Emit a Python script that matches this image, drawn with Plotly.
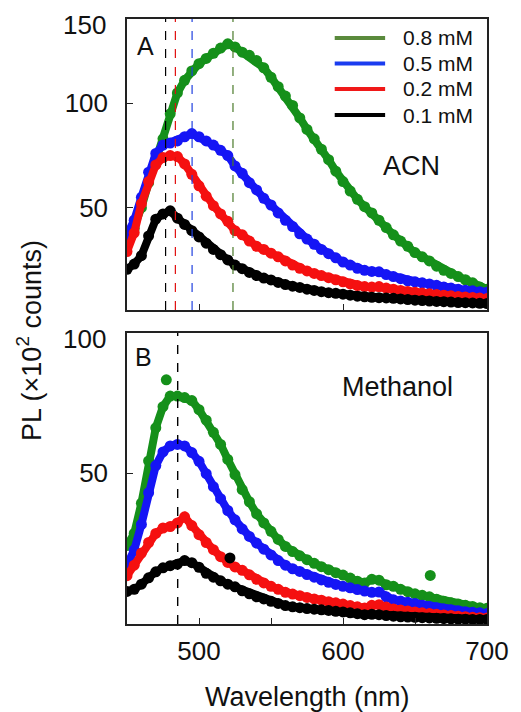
import plotly.graph_objects as go

# ---------------- data ----------------
wavelength = list(range(450, 701, 5))

# Panel A : ACN
acn_08 = [32, 40, 50, 62, 73, 83, 95, 105, 111, 115.5, 119, 121.5, 124, 126.5, 128.5, 127, 124.5, 123, 120.5, 117,
          112.5, 108, 103.5, 99, 93, 87.5, 83, 78, 73, 67.5, 62.5, 58, 54, 50.5, 47.5, 44, 40.5, 37, 34, 31.5,
          28.5, 26.5, 24.5, 22, 20, 18.5, 17, 15.5, 14, 12, 11]
acn_05 = [37, 44, 55, 67, 76, 80, 81, 82, 84, 85.5, 84, 82, 80, 77.5, 75, 70, 66.5, 62, 58.5, 54.5,
          51.3, 47.5, 44, 41, 37.5, 35, 32.5, 30, 28, 26, 24, 22.5, 21, 20, 19.5, 19.3, 18, 17, 16, 15,
          14.5, 14, 13.5, 12.8, 12, 11.5, 11, 10.5, 10.2, 9.8, 9.5]
acn_02 = [29, 38, 52, 62.5, 70.5, 74, 75, 74.5, 71, 66, 60.5, 55.5, 51, 47, 43.5, 39, 37, 34, 31.5, 30,
          28.2, 26.5, 24.5, 22.5, 21, 19.7, 18.5, 17.5, 16.5, 15.5, 14.5, 13.5, 12.7, 12.2, 12, 12.2, 11.5, 11, 10.4, 9.9,
          9.5, 9.1, 8.8, 8.4, 8.1, 7.8, 7.5, 7.2, 7, 6.7, 6.5]
acn_01 = [20.5, 23, 27, 36.5, 44.5, 47, 48.5, 45, 42, 39, 36, 33, 30, 27.5, 25, 22.5, 20.8, 19, 17.5, 16.3,
          15.4, 14.2, 13.2, 12.4, 11.8, 11, 10.4, 9.8, 9.3, 9, 8.6, 8.1, 7.6, 7.3, 7.1, 6.9, 6.8, 6.6, 6.3, 6,
          5.7, 5.5, 5.3, 5.1, 5, 4.8, 4.6, 4.5, 4.4, 4.2, 4.1]

# Panel B : Methanol
meoh_08 = [26, 30, 40, 54, 65, 72, 75.5, 75.5, 75, 74, 71, 67.5, 63.5, 59.5, 54.5, 49.5, 44.5, 40.5, 36.5, 33.5,
           30.7, 28, 25.7, 24, 22.6, 21.3, 20.1, 19, 18, 17, 16.2, 15.2, 14.2, 13.6, 14.8, 14.5, 13, 12.5, 11.5, 10.7,
           10, 9.5, 9, 8.2, 7.5, 7, 6.6, 6.2, 5.8, 5.4, 5.2]
meoh_05 = [19.5, 24.5, 33, 43.5, 52.5, 57, 59, 59.5, 59, 56.8, 53.9, 49.8, 45.5, 41.5, 37.6, 34.5, 31.5, 29, 26.8, 24.8,
           22.9, 21, 19.5, 18.3, 17.4, 16.4, 15.5, 14.6, 13.8, 13.1, 12.5, 12, 11.4, 10.9, 10.5, 10.6, 9, 8, 7.6, 7.2,
           6.8, 6.2, 5.8, 5.4, 5, 4.7, 4.4, 4.1, 3.9, 3.7, 3.5]
meoh_02 = [16, 19.5, 23.5, 27, 30, 31.8, 32.3, 33.5, 35.5, 32.6, 29.6, 27, 24.6, 22.3, 20.4, 18.9, 17.8, 16.3, 14.8, 13.6,
           12.5, 11.5, 10.5, 9.9, 9.4, 8.8, 8.3, 7.9, 7.4, 7, 6.6, 6.1, 5.7, 5.3, 6.2, 6.4, 5.6, 5, 4.6, 4.3,
           4, 3.7, 3.5, 3.2, 3, 2.8, 2.6, 2.4, 2.2, 2.1, 2]
meoh_01 = [10.8, 11.5, 13.2, 15.3, 17.3, 18.6, 19.3, 19.8, 21, 20.3, 18.8, 16.8, 15.5, 14.3, 13.2, 12.3, 11, 10, 9, 8.3,
           7.5, 6.8, 6.1, 5.7, 5.4, 5.1, 4.9, 4.7, 4.5, 4.2, 4, 3.7, 3.4, 3.1, 3.2, 3.1, 2.8, 2.6, 2.4, 2.3,
           2.2, 2.1, 2, 1.9, 1.8, 1.7, 1.6, 1.6, 1.5, 1.5, 1.5]

# isolated stray points
meoh_08_extra_x = [477.3, 660.6]
meoh_08_extra_y = [80.9, 16.1]
meoh_01_extra_x = [521.5]
meoh_01_extra_y = [21.9]

# peak positions (dashed guide lines)
acn_peaks = [476.8, 483.6, 495.2, 523.6]      # 0.1, 0.2, 0.5, 0.8 mM
meoh_peak = 485.2

labels = ["0.8 mM", "0.5 mM", "0.2 mM", "0.1 mM"]

# ---------------- style ----------------
FONT = "Liberation Sans, Arial, sans-serif"
mk_colors = {"0.8 mM": "#15901a", "0.5 mM": "#1515f5", "0.2 mM": "#f51010", "0.1 mM": "#000000"}
leg_colors = {"0.8 mM": "#5a8a3c", "0.5 mM": "#1a3cf0", "0.2 mM": "#f01818", "0.1 mM": "#000000"}
dash_colors = ["#000000", "#e01010", "#2040e0", "#4a7a2a"]

fig = go.Figure()

acn = {"0.8 mM": acn_08, "0.5 mM": acn_05, "0.2 mM": acn_02, "0.1 mM": acn_01}
meoh = {"0.8 mM": meoh_08, "0.5 mM": meoh_05, "0.2 mM": meoh_02, "0.1 mM": meoh_01}

MS, LW = 11, 8
for lab in labels:
    c = mk_colors[lab]
    fig.add_trace(go.Scatter(x=wavelength, y=acn[lab], mode="lines+markers", name=lab,
                             line=dict(color=c, width=LW), marker=dict(color=c, size=MS),
                             showlegend=False, xaxis="x", yaxis="y", hoverinfo="skip"))
    fig.add_trace(go.Scatter(x=wavelength, y=meoh[lab], mode="lines+markers", name=lab,
                             line=dict(color=c, width=LW), marker=dict(color=c, size=MS),
                             showlegend=False, xaxis="x2", yaxis="y2", hoverinfo="skip"))

fig.add_trace(go.Scatter(x=meoh_08_extra_x, y=meoh_08_extra_y, mode="markers",
                         marker=dict(color=mk_colors["0.8 mM"], size=MS), showlegend=False,
                         xaxis="x2", yaxis="y2"))
fig.add_trace(go.Scatter(x=meoh_01_extra_x, y=meoh_01_extra_y, mode="markers",
                         marker=dict(color=mk_colors["0.1 mM"], size=MS), showlegend=False,
                         xaxis="x2", yaxis="y2"))

# dashed guides
shapes = []
for xv, col in zip(acn_peaks, dash_colors):
    shapes.append(dict(type="line", xref="x", yref="y domain", x0=xv, x1=xv, y0=0, y1=1,
                       line=dict(color=col, width=1.2, dash="dash"), layer="above"))
shapes.append(dict(type="line", xref="x2", yref="y2 domain", x0=meoh_peak, x1=meoh_peak, y0=0, y1=1,
                   line=dict(color="#000000", width=1.4, dash="dash"), layer="above"))

# legend (drawn by hand, inside panel A)
annotations = []
leg_y = [0.9686, 0.9264, 0.8843, 0.8413]
for lab, yy in zip(labels, leg_y):
    shapes.append(dict(type="line", xref="paper", yref="paper", x0=0.577, x1=0.717, y0=yy, y1=yy,
                       line=dict(color=leg_colors[lab], width=4)))
    annotations.append(dict(text=lab, xref="paper", yref="paper", x=0.762, y=yy, xanchor="left",
                            yanchor="middle", showarrow=False,
                            font=dict(family=FONT, size=21, color="#111")))

axis_common = dict(showline=True, linecolor="#222", linewidth=1.5, mirror=True, ticks="inside",
                   ticklen=6, tickwidth=1.2, tickcolor="#222", showgrid=False, zeroline=False,
                   tickfont=dict(family=FONT, size=26, color="#111"))

annotations += [
    dict(text="150", xref="paper", yref="paper", x=-0.052, y=0.990, xanchor="right", yanchor="middle",
         showarrow=False, font=dict(family=FONT, size=26, color="#111")),
    dict(text="100", xref="paper", yref="paper", x=-0.052, y=0.471, xanchor="right", yanchor="middle",
         showarrow=False, font=dict(family=FONT, size=26, color="#111")),
    dict(text="A", xref="paper", yref="paper", x=0.052, y=0.955, xanchor="center", yanchor="middle",
         showarrow=False, font=dict(family=FONT, size=25, color="#111")),
    dict(text="B", xref="paper", yref="paper", x=0.047, y=0.441, xanchor="center", yanchor="middle",
         showarrow=False, font=dict(family=FONT, size=25, color="#111")),
    dict(text="ACN", xref="paper", yref="paper", x=0.79, y=0.757, xanchor="center", yanchor="middle",
         showarrow=False, font=dict(family=FONT, size=27, color="#111")),
    dict(text="Methanol", xref="paper", yref="paper", x=0.75, y=0.392, xanchor="center", yanchor="middle",
         showarrow=False, font=dict(family=FONT, size=27, color="#111")),
    dict(text="PL (×10<sup>2</sup> counts)", xref="paper", yref="paper", x=-0.272, y=0.468,
         xanchor="center", yanchor="middle", textangle=-90, showarrow=False,
         font=dict(family=FONT, size=27, color="#111")),
    dict(text="Wavelength (nm)", xref="paper", yref="paper", x=0.5, y=-0.12,
         xanchor="center", yanchor="middle", showarrow=False,
         font=dict(family=FONT, size=27, color="#111")),
]

fig.update_layout(
    width=521, height=712,
    margin=dict(l=127, r=30, t=19, b=88),
    paper_bgcolor="white", plot_bgcolor="white",
    font=dict(family=FONT, color="#111"),
    showlegend=False,
    xaxis=dict(domain=[0, 1], range=[450, 700], anchor="y", tickvals=[500, 600],
               showticklabels=False, **axis_common),
    yaxis=dict(domain=[0.519, 1], range=[1, 140.4], anchor="x", tickvals=[50, 100],
               ticklabelstandoff=12, **axis_common),
    xaxis2=dict(domain=[0, 1], range=[450, 700], anchor="y2", tickvals=[500, 600, 700],
                minor=dict(tickvals=[550, 650], ticks="inside", ticklen=6, tickwidth=1.2, tickcolor="#222"),
                ticklabelstandoff=3, **axis_common),
    yaxis2=dict(domain=[0, 0.481], range=[0, 96.4], anchor="x2", tickvals=[50],
                ticklabelstandoff=12, **axis_common),
    shapes=shapes,
    annotations=annotations,
)

fig.write_html("out.html")
